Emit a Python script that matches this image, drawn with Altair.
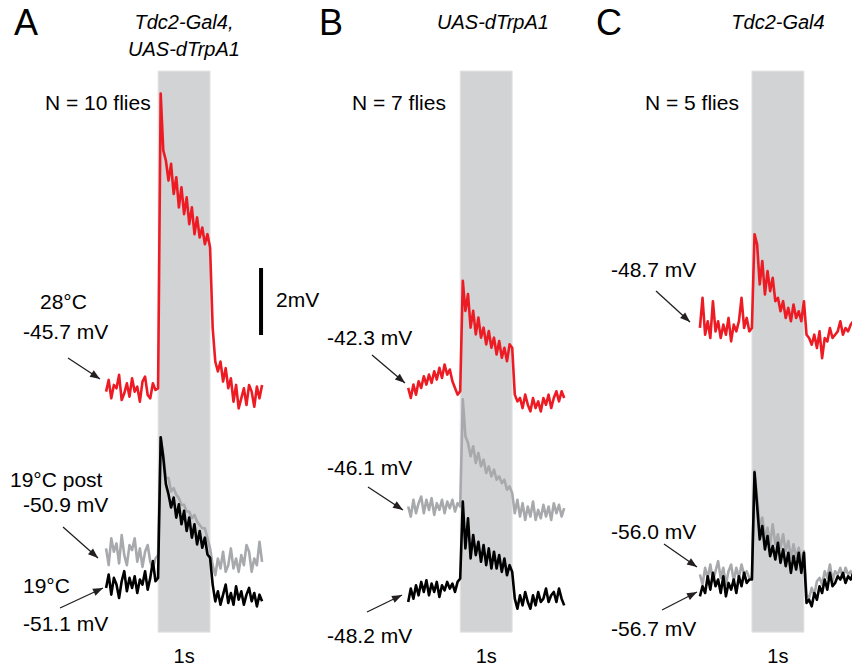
import math
import altair as alt
import pandas as pd

# Canvas and drawing scale: 52 px per second, 33.5 px per mV
W, H = 852, 666
PX_PER_S = 52.0
PX_PER_MV = 33.5
FONT = "Liberation Sans"

# Sample times (s) relative to the 1 s heat/stimulus window (0-1 s)
times = [round(-1.0 + 0.05 * i, 2) for i in range(61)]

# Membrane potential change (mV) relative to each trace's resting level
a_red = [0.1, 0.45, -0.1, 0.3, 0.2, 0.6, -0.15, 0.05, 0.35, -0.05, 0.5, 0.1, 0.25, -0.2, 0.4, 0.55, 0.0, -0.1, 0.35, 0.15,
         0.2, 9.0, 7.3, 7.0, 6.4, 6.9, 6.0, 6.5, 5.6, 6.2, 5.4, 5.9, 5.1, 5.6, 4.8, 5.3, 4.7, 5.0, 4.5, 4.8, 4.4,
         2.0, 1.0, 0.7, 1.0, 0.4, 0.8, 0.2, 0.5, -0.2, 0.3, -0.4, -0.1, 0.2, -0.3, 0.3, 0.1, -0.35, 0.25, -0.1, 0.3]
a_gray = [0.2, -0.3, 0.5, 0.1, 0.35, -0.25, 0.6, 0.0, -0.3, 0.3, 0.15, 0.5, -0.2, 0.2, -0.35, 0.1, 0.3, -0.2, -0.4, -0.1,
          0.0, 3.5, 3.0, 2.3, 2.3, 1.9, 2.0, 1.8, 1.7, 1.5, 1.5, 1.3, 1.3, 1.1, 1.2, 1.0, 0.9, 0.8, 0.8, 0.5, 0.2,
          -0.3, -0.6, -0.1, -0.4, 0.1, -0.5, -0.3, 0.2, -0.4, -0.1, -0.5, 0.0, -0.3, 0.3, 0.1, -0.5, -0.1, -0.3, 0.4, -0.2]
a_black = [0.0, 0.4, -0.2, 0.3, 0.1, -0.3, 0.2, 0.5, -0.1, 0.3, 0.0, 0.35, -0.15, 0.25, 0.1, 0.5, -0.05, 0.3, 0.8, 0.2,
           0.3, 4.5, 3.9, 3.1, 2.8, 2.4, 2.7, 2.1, 2.5, 1.9, 2.3, 1.7, 2.1, 1.5, 1.9, 1.3, 1.7, 1.2, 1.5, 1.0, 0.9,
           0.1, -0.4, -0.1, -0.5, -0.2, 0.1, -0.45, -0.15, -0.5, 0.05, -0.35, -0.1, -0.5, -0.2, 0.0, -0.4, -0.15, -0.55, -0.2, -0.4]

b_red = [0.0, -0.3, 0.1, -0.2, 0.2, 0.0, 0.35, 0.1, 0.4, 0.15, 0.5, 0.25, 0.6, 0.3, 0.7, 0.4, 0.55, 0.2, 0.0, -0.2,
         -0.1, 3.2, 2.3, 2.8, 1.8, 2.3, 1.6, 2.1, 1.5, 1.8, 1.3, 1.7, 1.2, 1.5, 1.0, 1.4, 0.9, 1.2, 0.8, 1.3, 1.2,
         -0.2, -0.4, -0.3, -0.6, -0.2, -0.5, -0.7, -0.3, -0.6, -0.4, -0.7, -0.3, -0.5, -0.2, -0.6, -0.3, -0.1, -0.4, -0.1, -0.3]
b_gray = [0.1, -0.2, 0.3, -0.1, 0.2, 0.4, -0.1, 0.3, 0.0, 0.35, -0.15, 0.2, 0.0, 0.3, -0.1, 0.25, 0.05, 0.3, -0.05, 0.2,
          0.1, 3.3, 2.2, 2.0, 1.6, 1.9, 1.4, 1.7, 1.3, 1.5, 1.1, 1.3, 1.0, 1.2, 0.9, 1.0, 0.8, 0.9, 0.6, 0.7, 0.5,
          -0.1, 0.3, -0.2, 0.2, -0.3, 0.1, -0.2, 0.25, -0.3, 0.0, -0.25, 0.15, -0.2, 0.1, -0.3, 0.2, -0.1, 0.15, -0.2, 0.05]
b_black = [-0.3, 0.1, -0.2, 0.2, -0.1, 0.3, 0.0, 0.35, -0.1, 0.25, 0.0, 0.3, -0.15, 0.2, 0.05, 0.3, 0.1, 0.25, 0.0, 0.3,
           0.4, 2.7, 1.3, 2.2, 1.0, 1.7, 1.1, 1.5, 0.9, 1.4, 0.8, 1.3, 0.7, 1.2, 0.7, 1.1, 0.6, 1.0, 0.5, 0.8, 0.6,
           -0.2, -0.5, -0.1, -0.4, 0.0, -0.3, -0.5, -0.1, -0.4, 0.0, -0.3, -0.2, 0.1, -0.3, -0.1, 0.0, -0.3, 0.1, -0.2, -0.4]

c_red = [0.0, 0.9, -0.2, 0.2, -0.3, 0.8, -0.1, 0.2, -0.3, 0.1, -0.2, 0.3, -0.4, 0.1, -0.1, 0.2, 0.9, 0.0, 0.3, -0.1,
         0.0, 2.8, 2.5, 1.3, 2.0, 1.0, 1.7, 1.1, 1.5, 0.8, 0.9, 0.5, 0.8, 0.3, 0.6, 0.2, 0.7, 0.3, 0.5, 0.2, 0.8,
         -0.2, -0.3, -0.5, -0.2, -0.6, -0.1, -0.9, -0.3, -0.4, 0.0, -0.3, -0.2, -0.1, 0.2, -0.2, 0.0, -0.1, 0.1, 0.2, 0.1]
c_gray = [0.1, -0.2, 0.3, 0.0, 0.4, -0.1, 0.2, 0.5, 0.0, 0.3, -0.2, 0.2, 0.4, -0.1, 0.3, 0.0, 0.4, 0.1, 0.2, 0.0,
          0.0, 3.2, 2.4, 1.5, 1.8, 1.2, 1.5, 1.0, 1.6, 1.0, 1.3, 0.9, 1.3, 0.8, 1.1, 0.6, 1.0, 0.6, 0.9, 0.5, 0.8,
          -0.5, -0.6, -0.3, -0.5, -0.1, 0.0, -0.2, 0.2, 0.0, 0.4, -0.1, 0.2, 0.1, 0.3, 0.0, 0.3, 0.1, 0.2, 0.0, 0.2]
c_black = [-0.4, -0.1, -0.3, 0.2, -0.2, 0.3, -0.1, 0.1, -0.3, 0.2, -0.4, 0.0, -0.2, 0.1, -0.3, 0.2, -0.1, 0.3, 0.0, 0.1,
           0.1, 3.3, 2.3, 1.3, 1.7, 1.0, 1.4, 0.8, 1.1, 0.7, 1.2, 0.6, 1.0, 0.5, 0.9, 0.3, 0.8, 0.4, 0.9, 0.3, 0.9,
           -0.6, -0.5, -0.7, -0.3, -0.5, -0.1, -0.3, 0.1, -0.2, 0.3, -0.1, 0.0, 0.2, 0.1, 0.3, 0.0, 0.2, 0.1, 0.3, 0.2]

# Panels: stimulus onset on the shared horizontal time axis (s)
panels = ["A", "B", "C"]
panel_onset = [3.04, 8.85, 14.46]

# Trace bookkeeping: panel, condition, values, vertical stacking level (mV)
trace_panel = ["A", "A", "A", "B", "B", "B", "C", "C", "C"]
trace_cond = ["19°C post", "19°C", "28°C"] * 3
trace_values = [a_gray, a_black, a_red, b_gray, b_black, b_red, c_gray, c_black, c_red]
trace_level = [3.31, 2.33, 8.09, 4.66, 2.21, 8.30, 2.63, 2.48, 10.09]
cond_colors = {"28°C": "#ed1c24", "19°C": "#000000", "19°C post": "#a7a9ac"}

rows = []
for k, (p, cond, vals, lvl) in enumerate(zip(trace_panel, trace_cond, trace_values, trace_level)):
    onset = panel_onset[panels.index(p)]
    for t, v in zip(times, vals):
        rows.append({"trace": k, "panel": p, "cond": cond, "t": t, "dv": v,
                     "x": onset + t, "y": lvl + v})
traces = pd.DataFrame(rows)

xs = alt.Scale(domain=[0, W / PX_PER_S])
ys = alt.Scale(domain=[0, H / PX_PER_MV])

# Stimulus windows (1 s)
stim = pd.DataFrame({"x": panel_onset, "x2": [o + 1.0 for o in panel_onset],
                     "y": [1.01] * 3, "y2": [17.76] * 3})
stim_layer = alt.Chart(stim).mark_rect(fill="#d1d3d4", stroke="#e4e5e6", strokeWidth=1).encode(
    x=alt.X("x:Q", scale=xs, axis=None), x2="x2:Q",
    y=alt.Y("y:Q", scale=ys, axis=None), y2="y2:Q")


def trace_layer(cond):
    return alt.Chart(traces).transform_filter(alt.datum.cond == cond).mark_line(
        color=cond_colors[cond], strokeWidth=2.6, strokeJoin="round", clip=True
    ).encode(
        x=alt.X("x:Q", scale=xs, axis=None),
        y=alt.Y("y:Q", scale=ys, axis=None),
        detail="trace:N",
        order="t:Q",
    )


# 2 mV scale bar at the end of panel A
bar = pd.DataFrame({"x": [panel_onset[0] + 1.98], "y": [9.88], "y2": [11.88]})
bar_layer = alt.Chart(bar).mark_rule(color="#000000", strokeWidth=4).encode(
    x=alt.X("x:Q", scale=xs, axis=None),
    y=alt.Y("y:Q", scale=ys, axis=None), y2="y2:Q")

# Text annotations (pixel positions)
letters = pd.DataFrame({"text": ["A", "B", "C"], "px": [26, 331, 609], "py": [24, 24, 24]})
titles = pd.DataFrame({"text": ["Tdc2-Gal4,", "UAS-dTrpA1", "UAS-dTrpA1", "Tdc2-Gal4"],
                       "px": [184, 184, 493, 778], "py": [23, 50, 23, 23]})
labels = pd.DataFrame({
    "text": ["N = 10 flies", "N = 7 flies", "N = 5 flies",
             "28°C", "-45.7 mV", "19°C post", "-50.9 mV", "19°C", "-51.1 mV",
             "-42.3 mV", "-46.1 mV", "-48.2 mV",
             "-48.7 mV", "-56.0 mV", "-56.7 mV", "2mV"],
    "px": [45, 352, 645, 40, 23, 10, 23, 23, 23, 327, 327, 327, 611, 611, 611, 276],
    "py": [104, 104, 104, 303, 333, 481, 506, 587, 625, 339, 469, 637, 271, 533, 630, 301],
})
seconds = pd.DataFrame({"text": ["1s"] * 3, "x": [o + 0.5 for o in panel_onset], "py": [657] * 3})


def text_layer(df, size, **kw):
    return alt.Chart(df).mark_text(font=FONT, fontSize=size, baseline="middle", color="#000000", **kw).encode(
        x=alt.X("px:Q", scale=None), y=alt.Y("py:Q", scale=None), text="text:N")


letter_layer = text_layer(letters, 36, align="center")
title_layer = text_layer(titles, 20, align="center", fontStyle="italic")
label_layer = text_layer(labels, 21, align="left")
sec_layer = alt.Chart(seconds).mark_text(font=FONT, fontSize=20, baseline="middle", align="center").encode(
    x=alt.X("x:Q", scale=xs, axis=None), y=alt.Y("py:Q", scale=None), text="text:N")

# Arrows from labels to the resting level of each trace (pixel positions)
arrows = pd.DataFrame({
    "x0": [68, 63, 60, 372, 368, 367, 656, 664, 662],
    "y0": [358, 527, 608, 355, 487, 612, 291, 544, 610],
    "x1": [100, 98, 103, 405, 403, 402, 690, 697, 697],
    "y1": [379, 558, 588, 383, 510, 595, 322, 567, 592],
})
arrows["angle"] = [math.degrees(math.atan2(r.y1 - r.y0, r.x1 - r.x0)) % 360 for r in arrows.itertuples()]

shaft_layer = alt.Chart(arrows).mark_rule(color="#231f20", strokeWidth=1.3).encode(
    x=alt.X("x0:Q", scale=None), y=alt.Y("y0:Q", scale=None), x2="x1:Q", y2="y1:Q")
head_layer = alt.Chart(arrows).mark_point(
    shape="M0,0L-1,-0.38L-1,0.38Z", filled=True, color="#231f20", size=400, opacity=1
).encode(
    x=alt.X("x1:Q", scale=None), y=alt.Y("y1:Q", scale=None),
    angle=alt.Angle("angle:Q", scale=None))

chart = alt.layer(
    stim_layer,
    trace_layer("19°C post"),
    trace_layer("19°C"),
    trace_layer("28°C"),
    bar_layer,
    shaft_layer, head_layer,
    letter_layer, title_layer, label_layer, sec_layer,
).properties(
    width=W, height=H, padding=0, background="#ffffff",
    autosize=alt.AutoSizeParams(type="none"),
).configure_view(stroke=None)

chart.save("out.html", embed_options={"renderer": "svg", "actions": False})
